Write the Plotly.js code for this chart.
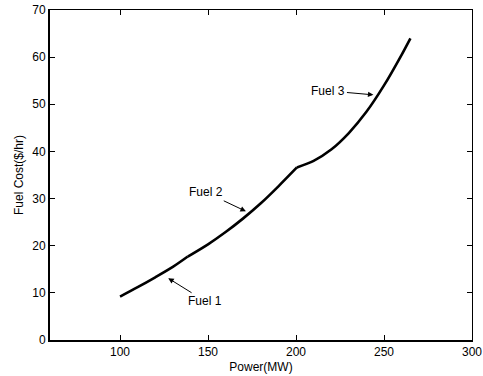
<!DOCTYPE html>
<html>
<head>
<meta charset="utf-8">
<script src="https://cdn.plot.ly/plotly-3.0.1.min.js"></script>
<style>html,body{margin:0;padding:0;background:#fff;}#chart{width:483px;height:376px;}</style>
</head>
<body>
<div id="chart"></div>
<script>
// Fuel segments of the cost curve (Power MW, Fuel Cost $/hr)
var fuel1X = [100, 110, 120, 130, 138.5];
var fuel1Y = [9.2, 11.2, 13.3, 15.5, 17.7];
var fuel2X = [138.5, 150, 160, 170, 180, 190, 200.5];
var fuel2Y = [17.7, 20.3, 22.9, 25.8, 29.0, 32.6, 36.6];
var fuel3X = [200.5, 210, 220, 230, 240, 250, 260, 265];
var fuel3Y = [36.6, 38.0, 40.4, 43.9, 48.4, 54.0, 60.5, 64.0];

var labels = ["Fuel 1", "Fuel 2", "Fuel 3"];
var labelPts = [[127.4, 13.1], [171.5, 27.3], [244, 52.0]];

var xTicks = [100, 150, 200, 250, 300];
var yTicks = [0, 10, 20, 30, 40, 50, 60, 70];

var lineStyle = {color: "#000", width: 2.6, shape: "spline", smoothing: 0.8};
var traces = [
  {x: fuel1X, y: fuel1Y, mode: "lines", line: lineStyle, hoverinfo: "skip"},
  {x: fuel2X, y: fuel2Y, mode: "lines", line: lineStyle, hoverinfo: "skip"},
  {x: fuel3X, y: fuel3Y, mode: "lines", line: lineStyle, hoverinfo: "skip"},
  {x: [], y: [], xaxis: "x2", yaxis: "y2", mode: "lines", hoverinfo: "skip"}
];

var offs = [[37, 23], [-40, -19], [-45, -4]];
var annotations = labels.map(function (t, i) {
  return {
    x: labelPts[i][0], y: labelPts[i][1], xref: "x", yref: "y",
    text: t, showarrow: true, arrowhead: 2, arrowsize: 1.1, arrowwidth: 1,
    arrowcolor: "#000", ax: offs[i][0], ay: offs[i][1],
    font: {family: "Liberation Sans, Arial, sans-serif", size: 12, color: "#000"}
  };
});

var fnt = {family: "Liberation Sans, Arial, sans-serif", size: 12, color: "#000"};
var layout = {
  width: 483, height: 376,
  margin: {l: 50, r: 11, t: 10, b: 36, pad: 0},
  paper_bgcolor: "#fff", plot_bgcolor: "#fff",
  showlegend: false,
  font: fnt,
  xaxis: {
    range: [60.2, 300], tickvals: xTicks, ticktext: xTicks.map(String),
    ticks: "inside", ticklen: 5, tickcolor: "#000", tickwidth: 1,
    showline: true, linecolor: "#000", linewidth: 2, showgrid: false, zeroline: false,
    tickfont: fnt, title: {text: "Power(MW)", font: fnt, standoff: 4}
  },
  yaxis: {
    range: [0, 70], tickvals: yTicks, ticktext: yTicks.map(String),
    ticks: "inside", ticklen: 5, tickcolor: "#000", tickwidth: 1,
    showline: true, linecolor: "#000", linewidth: 2, showgrid: false, zeroline: false,
    tickfont: fnt, title: {text: "Fuel Cost($/hr)", font: fnt, standoff: 6}
  },
  xaxis2: {
    overlaying: "x", side: "top", anchor: "y2", range: [60.2, 300], tickvals: xTicks,
    ticks: "inside", ticklen: 5, tickcolor: "#000", showticklabels: false,
    showline: true, linecolor: "#000", linewidth: 1, showgrid: false, zeroline: false
  },
  yaxis2: {
    overlaying: "y", side: "right", anchor: "x2", range: [0, 70], tickvals: yTicks,
    ticks: "inside", ticklen: 5, tickcolor: "#000", showticklabels: false,
    showline: true, linecolor: "#000", linewidth: 1, showgrid: false, zeroline: false
  },
  annotations: annotations
};

Plotly.newPlot("chart", traces, layout, {staticPlot: true, displayModeBar: false});
</script>
</body>
</html>
